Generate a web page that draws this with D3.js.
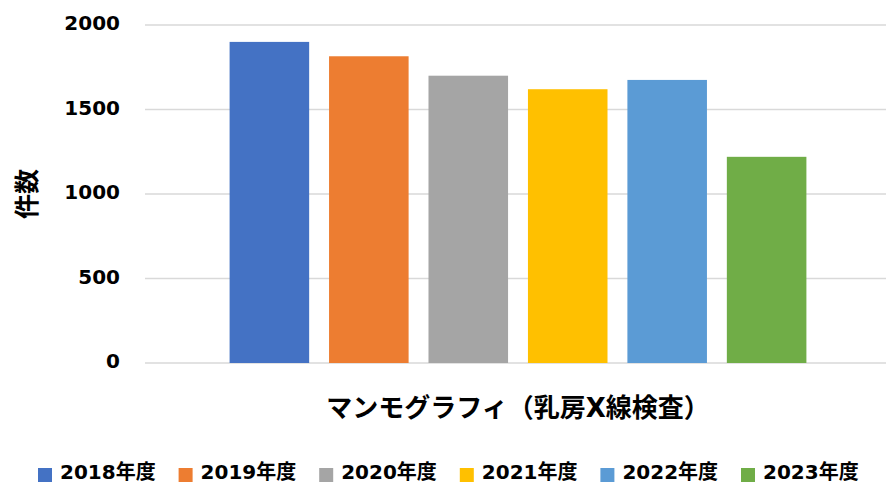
<!DOCTYPE html>
<html lang="ja">
<head>
<meta charset="utf-8">
<script src="https://cdn.jsdelivr.net/npm/d3@7"></script>
<style>
    body { margin: 0; background: #fff; }
    #chart-area { width: 886px; height: 484px; }
    text { font-family: "DejaVu Sans", "Noto Sans CJK JP", sans-serif; font-weight: bold; fill: #000; }
</style>
</head>
<body>
<div id="chart-area"></div>
<script>

// data
const category = "マンモグラフィ（乳房X線検査）";
const years = ["2018年度", "2019年度", "2020年度", "2021年度", "2022年度", "2023年度"];
const counts = [1900, 1815, 1700, 1620, 1675, 1220];
const yTicks = [0, 500, 1000, 1500, 2000];
const colors = ["#4472C4", "#ED7D31", "#A5A5A5", "#FFC000", "#5B9BD5", "#70AD47"];
const yTitle = "件数";


/* * * * * * * * * * * * * *
*         BarChart         *
* * * * * * * * * * * * * */

class BarChart {

    constructor(_parentElement) {
        this.parentElement = _parentElement;
        this.initVis();
    }

    initVis() {
        let vis = this;

        vis.width = 886;
        vis.height = 484;

        vis.svg = d3.select("#" + vis.parentElement).append("svg")
            .attr("width", vis.width)
            .attr("height", vis.height);

        // scales
        vis.y = d3.scaleLinear()
            .domain([0, 2000])
            .range([363, 25]);

        vis.x0 = d3.scaleBand()
            .domain([category])
            .range([150, 886])
            .paddingOuter(0.138);

        vis.x1 = d3.scaleBand()
            .domain(years)
            .range([0, vis.x0.bandwidth()])
            .paddingInner(0.2);

        vis.color = d3.scaleOrdinal()
            .domain(years)
            .range(colors);

        // gridlines
        vis.svg.append("g")
            .selectAll("line")
            .data(yTicks)
            .enter()
            .append("line")
            .attr("x1", 145)
            .attr("x2", 886)
            .attr("y1", d => vis.y(d))
            .attr("y2", d => vis.y(d))
            .attr("stroke", "#d9d9d9")
            .attr("stroke-width", 1.4);

        // y axis labels
        vis.svg.append("g")
            .selectAll("text")
            .data(yTicks)
            .enter()
            .append("text")
            .attr("x", 120)
            .attr("y", d => vis.y(d) + 5)
            .attr("text-anchor", "end")
            .style("font-size", "20px")
            .text(d => d);

        // y axis title
        vis.svg.append("text")
            .attr("transform", "translate(36,194) rotate(-90)")
            .attr("text-anchor", "middle")
            .style("font-size", "25px")
            .style("font-family", "'Noto Sans CJK JP', sans-serif")
            .text(yTitle);

        // category label
        vis.svg.append("text")
            .attr("x", vis.x0(category) + vis.x0.bandwidth() / 2)
            .attr("y", 417)
            .attr("text-anchor", "middle")
            .style("font-size", "26px")
            .text(category);

        vis.updateVis();
    }

    updateVis() {
        let vis = this;

        let displayData = years.map((yr, i) => ({year: yr, value: counts[i]}));

        // bars
        vis.svg.append("g")
            .attr("transform", "translate(" + vis.x0(category) + ",0)")
            .selectAll("rect")
            .data(displayData)
            .enter()
            .append("rect")
            .attr("x", d => vis.x1(d.year))
            .attr("width", vis.x1.bandwidth())
            .attr("y", d => vis.y(d.value))
            .attr("height", d => vis.y(0) - vis.y(d.value))
            .attr("fill", d => vis.color(d.year));

        // legend
        let legendX = d3.scaleLinear()
            .domain([0, years.length - 1])
            .range([38, 741]);

        let items = vis.svg.append("g")
            .selectAll("g")
            .data(years)
            .enter()
            .append("g")
            .attr("transform", (d, i) => "translate(" + legendX(i) + ",0)");

        items.append("rect")
            .attr("y", 468)
            .attr("width", 14)
            .attr("height", 14)
            .attr("fill", d => vis.color(d));

        items.append("text")
            .attr("x", 22)
            .attr("y", 479)
            .style("font-size", "20px")
            .text(d => d);
    }
}

new BarChart("chart-area");
</script>
</body>
</html>
